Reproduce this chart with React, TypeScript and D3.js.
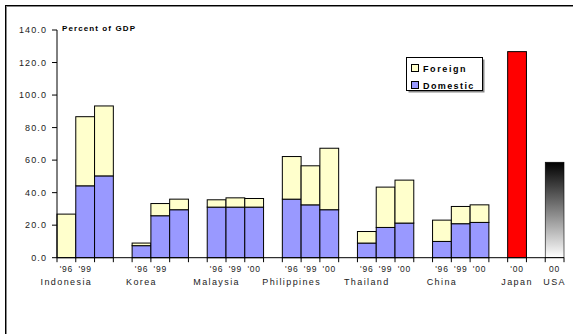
import React from "react";
import * as d3 from "d3";

// Bank credit to the private sector, percent of GDP
const countries = ["Indonesia", "Korea", "Malaysia", "Philippines", "Thailand", "China"];
const years = ["'96", "'99", "'00"];
const domestic = [
  [0, 44.2, 50.3],
  [7.4, 25.8, 29.5],
  [31.1, 31.1, 31.1],
  [36.0, 32.5, 29.5],
  [9.0, 18.6, 21.3],
  [10.0, 20.9, 21.7],
];
const foreign = [
  [26.8, 42.5, 43.0],
  [1.6, 7.5, 6.5],
  [4.5, 5.7, 5.3],
  [26.2, 24.0, 37.8],
  [7.1, 24.8, 26.4],
  [13.1, 10.6, 10.8],
];
// which year labels are printed under each country group
const yearLabelShown = [
  [true, true, false],
  [true, true, false],
  [true, true, true],
  [true, true, true],
  [true, true, true],
  [true, true, true],
];
const japanTotal = 126.7;
const usaTotal = 58.7;
const yTicks = [0, 20, 40, 60, 80, 100, 120, 140];

const W = 573;
const H = 334;
const FONT = "'Liberation Sans', Arial, sans-serif";
const FOREIGN_C = "#FFFFCC";
const DOMESTIC_C = "#9999FF";

// Slot layout: three years per Asian country plus a blank spacer, then Japan, spacer, USA
const slots: string[] = [];
countries.forEach((c) => {
  years.forEach((y) => slots.push(`${c}|${y}`));
  slots.push(`${c}|gap`);
});
slots.push("Japan|'00", "Japan|gap", "USA|00");

export default function App() {
  const x = d3.scaleBand<string>().domain(slots).range([57, 564]).paddingInner(0).paddingOuter(0);
  const y = d3.scaleLinear().domain([0, 140]).range([257.7, 30]);
  const bw = x.bandwidth();

  const bars: React.ReactNode[] = [];
  const labels: React.ReactNode[] = [];
  countries.forEach((c, ci) => {
    years.forEach((yr, yi) => {
      const key = `${c}|${yr}`;
      const x0 = x(key)!;
      const d = domestic[ci][yi];
      const f = foreign[ci][yi];
      if (d > 0) {
        bars.push(
          <rect key={key + "d"} x={x0} y={y(d)} width={bw} height={y(0) - y(d)}
            fill={DOMESTIC_C} stroke="#000" strokeWidth={1} />
        );
      }
      bars.push(
        <rect key={key + "f"} x={x0} y={y(d + f)} width={bw} height={y(d) - y(d + f)}
          fill={FOREIGN_C} stroke="#000" strokeWidth={1} />
      );
      if (yearLabelShown[ci][yi]) {
        labels.push(
          <text key={key + "l"} x={x0 + bw / 2} y={272} textAnchor="middle"
            fontSize={8.5} letterSpacing={0.8} fill="#222">{yr}</text>
        );
      }
    });
    const first = x(`${c}|${years[0]}`)!;
    labels.push(
      <text key={c + "n"} x={first + bw / 2} y={284.5} textAnchor="middle"
        fontSize={9} letterSpacing={1.4} fill="#222">{c}</text>
    );
  });

  const jx = x("Japan|'00")!;
  const ux = x("USA|00")!;

  return (
    <svg width={W} height={H} style={{ position: "absolute", left: 0, top: 0, background: "#fff" }}
      fontFamily={FONT}>
      <defs>
        <linearGradient id="usaGrad" x1="0" y1="0" x2="0" y2="1">
          <stop offset="0%" stopColor="#000" />
          <stop offset="100%" stopColor="#fff" />
        </linearGradient>
      </defs>
      {/* outer frame */}
      <rect x={5.5} y={5.5} width={700} height={500} fill="none" stroke="#000" strokeWidth={1} />
      <rect x={6.5} y={6.5} width={700} height={500} fill="none" stroke="#888" strokeWidth={1} />

      {/* title */}
      <text x={62} y={31} fontSize={8} fontWeight="bold" letterSpacing={1.1} fill="#000">
        Percent of GDP
      </text>

      {bars}
      <rect x={jx} y={y(japanTotal)} width={bw} height={y(0) - y(japanTotal)}
        fill="#FF0000" stroke="#000" strokeWidth={1} />
      <rect x={ux} y={y(usaTotal)} width={bw} height={y(0) - y(usaTotal)}
        fill="url(#usaGrad)" stroke="#000" strokeWidth={0.6} />

      {/* y axis */}
      <line x1={57} x2={57} y1={y(140)} y2={y(0)} stroke="#000" strokeWidth={1} />
      {yTicks.map((t) => (
        <g key={t}>
          <line x1={52} x2={57} y1={y(t)} y2={y(t)} stroke="#000" strokeWidth={1} />
          <text x={47} y={y(t) + 3.2} textAnchor="end" fontSize={9} letterSpacing={1.1} fill="#222">
            {t.toFixed(1)}
          </text>
        </g>
      ))}

      {/* x axis with a tick at every slot boundary */}
      <line x1={57} x2={564} y1={y(0)} y2={y(0)} stroke="#000" strokeWidth={1} />
      {slots.map((s) => (
        <line key={s} x1={x(s)! + bw} x2={x(s)! + bw} y1={y(0)} y2={y(0) + 4.5}
          stroke="#000" strokeWidth={1} />
      ))}
      <line x1={57} x2={57} y1={y(0)} y2={y(0) + 4.5} stroke="#000" strokeWidth={1} />

      {labels}
      <text x={jx + bw / 2} y={272} textAnchor="middle" fontSize={8.5} letterSpacing={0.8} fill="#222">'00</text>
      <text x={jx + bw / 2} y={284.5} textAnchor="middle" fontSize={9} letterSpacing={1.4} fill="#222">Japan</text>
      <text x={ux + bw / 2} y={272} textAnchor="middle" fontSize={8.5} letterSpacing={0.8} fill="#222">00</text>
      <text x={ux + bw / 2} y={284.5} textAnchor="middle" fontSize={9} letterSpacing={1.4} fill="#222">USA</text>

      {/* legend */}
      <rect x={408.5} y={59.5} width={76} height={33} fill="#888" />
      <rect x={406.5} y={57.5} width={76} height={33} fill="#fff" stroke="#000" strokeWidth={1} />
      <rect x={411.5} y={64.5} width={7} height={7} fill={FOREIGN_C} stroke="#000" strokeWidth={1} />
      <text x={423} y={71.5} fontSize={9} fontWeight="bold" letterSpacing={1.6} fill="#000">Foreign</text>
      <rect x={411.5} y={81.5} width={7} height={7} fill={DOMESTIC_C} stroke="#000" strokeWidth={1} />
      <text x={423} y={88.5} fontSize={9} fontWeight="bold" letterSpacing={1.4} fill="#000">Domestic</text>
    </svg>
  );
}
